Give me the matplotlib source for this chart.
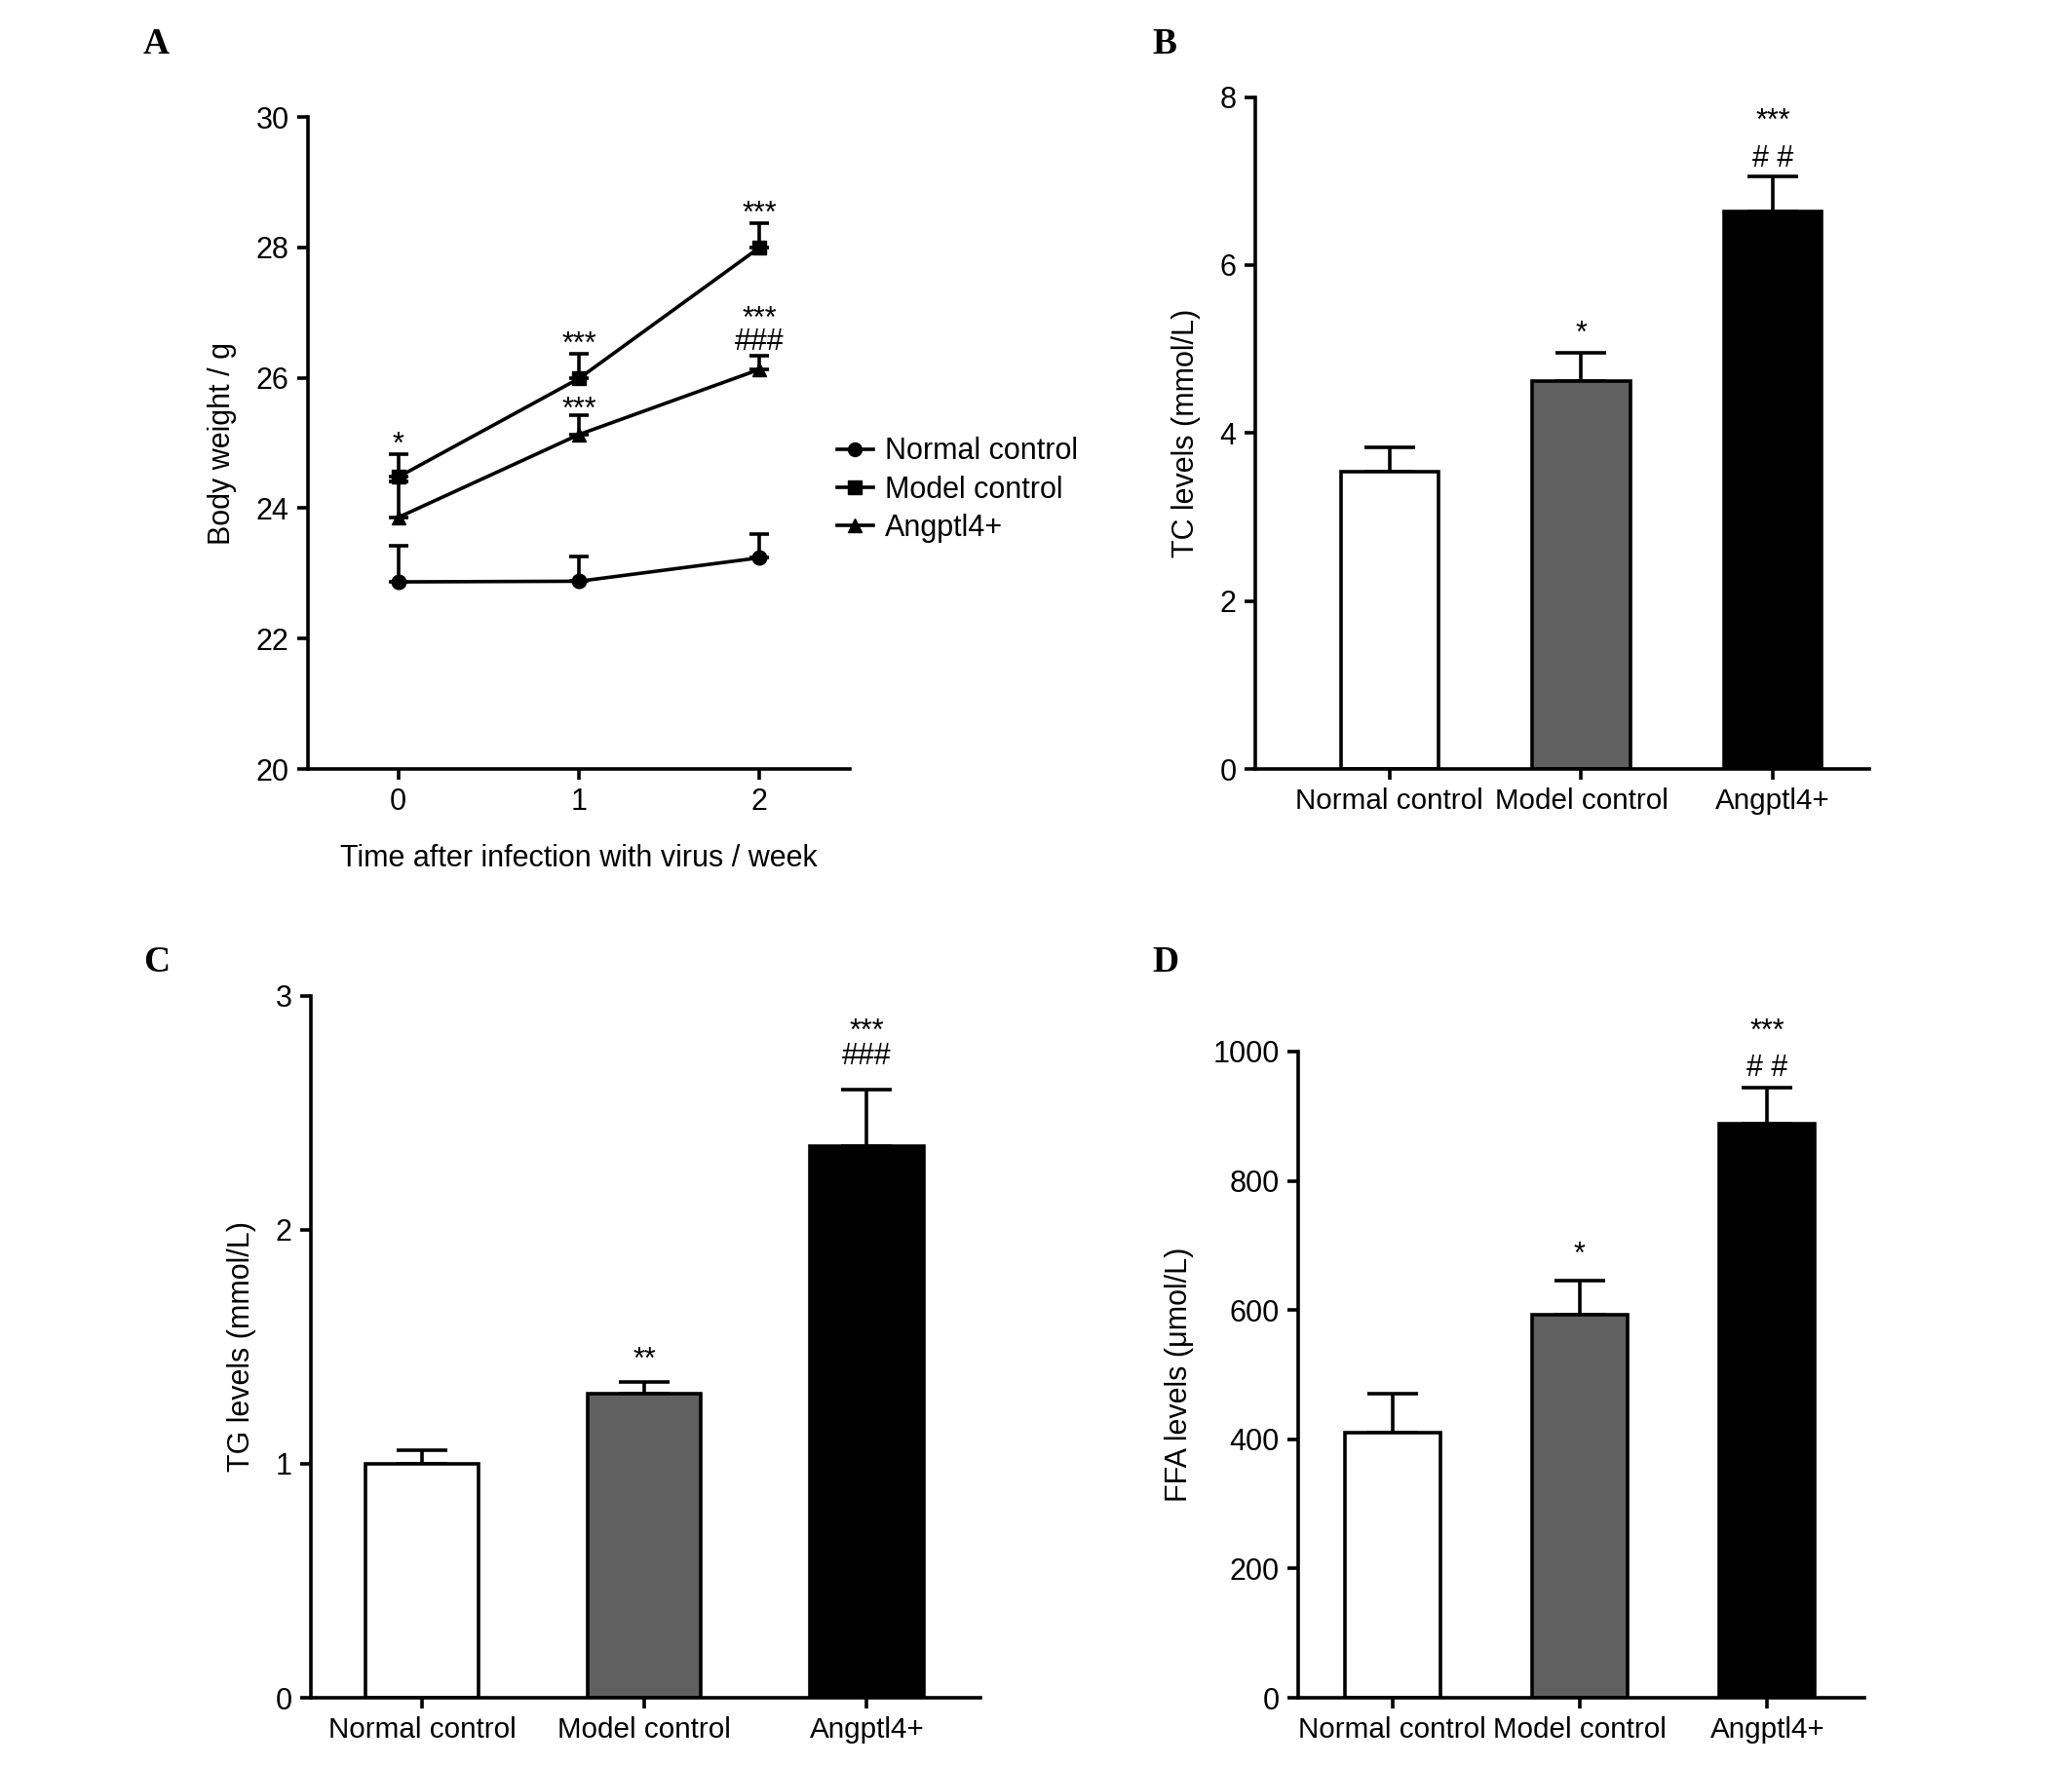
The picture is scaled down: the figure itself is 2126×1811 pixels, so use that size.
import matplotlib
matplotlib.use("Agg")
import matplotlib.pyplot as plt
from matplotlib.lines import Line2D

plt.rcParams["font.family"] = ["Liberation Sans", "DejaVu Sans"]

# panel A data: body weight over time
weeks = [0, 1, 2]
week_labels = ["0", "1", "2"]
normal_bw = [22.87, 22.88, 23.24]
normal_bw_err = [0.55, 0.38, 0.37]
model_bw = [24.48, 25.99, 28.0]
model_bw_err = [0.35, 0.38, 0.37]
angptl_bw = [23.86, 25.13, 26.13]
angptl_bw_err = [0.55, 0.29, 0.21]
model_bw_marks = ["*", "***", "***"]
angptl_bw_marks = ["", "***", "***\n###"]

# bar panels
groups = ["Normal control", "Model control", "Angptl4+"]
tc_vals = [3.54, 4.62, 6.64]
tc_err = [0.29, 0.33, 0.41]
tg_vals = [1.0, 1.30, 2.36]
tg_err = [0.06, 0.05, 0.24]
ffa_vals = [411, 593, 889]
ffa_err = [60, 53, 55]

tc_marks = ["", "*", "***\n# #"]
tg_marks = ["", "**", "***\n###"]
ffa_marks = ["", "*", "***\n# #"]

bar_colors = ["white", "#606060", "black"]

fig = plt.figure(figsize=(21.26, 18.11), dpi=100)


def style_axes(ax):
    for s in ["top", "right"]:
        ax.spines[s].set_visible(False)
    for s in ["left", "bottom"]:
        ax.spines[s].set_linewidth(2.6)
    ax.tick_params(width=2.6, length=8, labelsize=22, pad=6)


def put_marks(ax, x, y, mark, single_off, star_off, hash_off):
    # stars on top, hashes below, as one text block
    if not mark:
        return
    if "\n" not in mark:
        ax.annotate(mark, (x, y), xytext=(0, single_off), textcoords="offset points",
                    ha="center", va="baseline", fontsize=22)
    else:
        ls = (star_off - hash_off) / 16.0
        ax.annotate(mark, (x, y), xytext=(0, hash_off - 4.6), textcoords="offset points",
                    ha="center", va="bottom", fontsize=22, linespacing=ls)


# ---- A ----
axA = fig.add_axes([0.1487, 0.5643, 0.2615, 0.3694])
style_axes(axA)
series = [(normal_bw, normal_bw_err, "o", "Normal control"),
          (model_bw, model_bw_err, "s", "Model control"),
          (angptl_bw, angptl_bw_err, "^", "Angptl4+")]
handles = []
for vals, errs, mk, lab in series:
    axA.errorbar(weeks, vals, yerr=[[0] * len(errs), errs], color="black", lw=2.6,
                 marker=mk, ms=10.5, capsize=7, capthick=2.6, elinewidth=2.6)
    handles.append(Line2D([], [], color="black", lw=2.6, marker=mk, ms=10, label=lab))
axA.set_xlim(-0.5, 2.5)
axA.set_ylim(20, 30)
axA.set_yticks([20, 22, 24, 26, 28, 30])
axA.set_xticks(weeks)
axA.set_xticklabels(week_labels)
axA.set_ylabel("Body weight / g", fontsize=22, labelpad=14)
axA.set_xlabel("Time after infection with virus / week", fontsize=22, labelpad=20)

for i in range(len(weeks)):
    put_marks(axA, weeks[i], model_bw[i] + model_bw_err[i], model_bw_marks[i], 1, 15, 4)
    put_marks(axA, weeks[i], angptl_bw[i] + angptl_bw_err[i], angptl_bw_marks[i], -2, 15, 4)

fig.legend(handles=handles, loc="center left", bbox_to_anchor=(0.404, 0.7225), frameon=False,
           fontsize=22, handlelength=1.2, handletextpad=0.4, labelspacing=0.3,
           borderpad=0, borderaxespad=0)


def bar_panel(rect, vals, errs, marks, ylim, yticks, ylabel, xlim, offs):
    ax = fig.add_axes(rect)
    style_axes(ax)
    x = range(len(groups))
    ax.bar(x, vals, width=0.51, color=bar_colors, edgecolor="black", linewidth=2.6, zorder=2)
    ax.errorbar(x, vals, yerr=[[0] * len(vals), errs], fmt="none", ecolor="black",
                elinewidth=2.6, capsize=19, capthick=2.6, zorder=1)
    ax.set_xlim(*xlim)
    ax.set_ylim(*ylim)
    ax.set_yticks(yticks)
    ax.set_xticks(list(x))
    ax.set_xticklabels(groups, fontsize=21.3)
    ax.set_ylabel(ylabel, fontsize=22, labelpad=14)
    for i, t in enumerate(marks):
        put_marks(ax, i, vals[i] + errs[i], t, *offs)
    return ax


bar_panel([0.6058, 0.5643, 0.2962, 0.3807], tc_vals, tc_err, tc_marks, (0, 8),
          [0, 2, 4, 6, 8], "TC levels (mmol/L)", (-0.7, 2.5), (8, 29, 7))
bar_panel([0.150, 0.0381, 0.3231, 0.3976], tg_vals, tg_err, tg_marks, (0, 3),
          [0, 1, 2, 3], "TG levels (mmol/L)", (-0.5, 2.51), (10, 31, 18))
bar_panel([0.6267, 0.0381, 0.2733, 0.3661], ffa_vals, ffa_err, ffa_marks, (0, 1000),
          [0, 200, 400, 600, 800, 1000], "FFA levels (\u03bcmol/L)", (-0.5, 2.52), (13, 29, 8))

for lab, x, y in [("A", 0.069, 0.975), ("B", 0.556, 0.975), ("C", 0.069, 0.4545), ("D", 0.556, 0.4545)]:
    fig.text(x, y, lab, fontsize=27, fontweight="bold", family="Liberation Serif",
             va="center", ha="left")

fig.savefig("out.png", dpi=100)
